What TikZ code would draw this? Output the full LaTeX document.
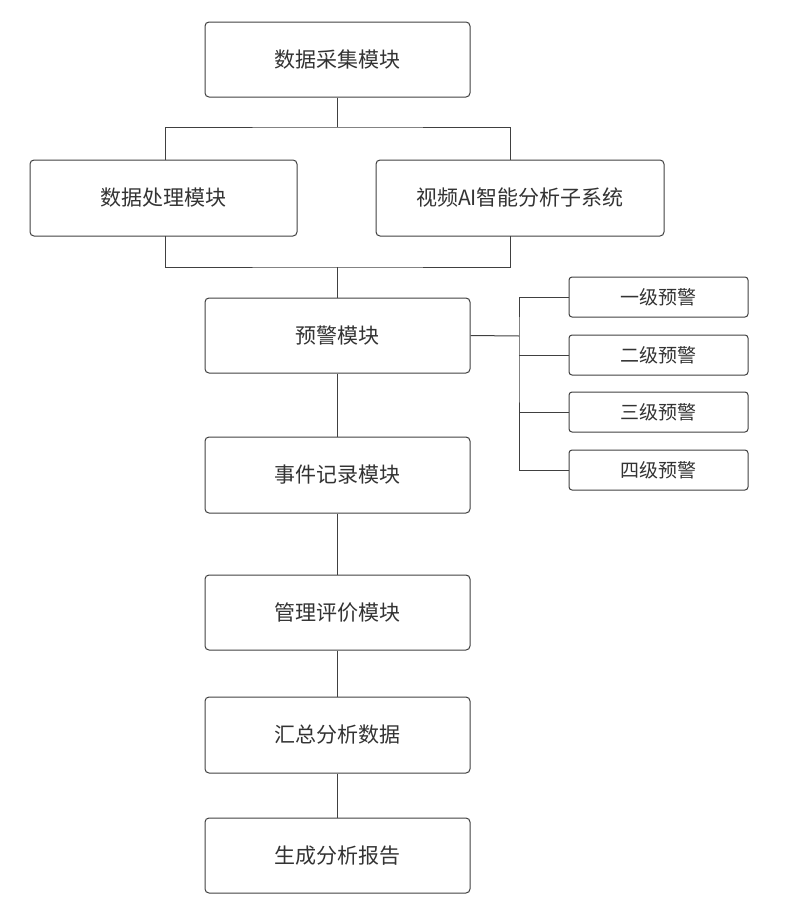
\documentclass[tikz,border=0pt]{standalone}
\usepackage{fontspec}
\setmainfont{Noto Sans CJK SC}
\begin{document}
\begin{tikzpicture}[x=1pt,y=-1pt,
  box/.style={draw=black!75,line width=1pt,rounded corners=4pt,font=\fontsize{21}{24}\selectfont,text=black!80},
  sbox/.style={draw=black!75,line width=1pt,rounded corners=3pt,font=\fontsize{19}{22}\selectfont,text=black!80,minimum width=179pt,minimum height=40pt},
  ln/.style={draw=black!75,line width=1pt}]
\useasboundingbox (0,0) rectangle (788,913);
\newcommand\bx[6]{\node[#6,minimum width={#4-#2},minimum height={#5-#3}] (#1) at ({(#2+#4)/2},{(#3+#5)/2}) {};}
\node[box,minimum width=265pt,minimum height=75pt] (a) at (337.5,59.5) {数据采集模块};
\node[box,minimum width=267pt,minimum height=76pt] (b) at (163.5,198) {数据处理模块};
\node[box,minimum width=288pt,minimum height=76pt] (c) at (520,198) {视频AI智能分析子系统};
\node[box,minimum width=265pt,minimum height=75pt] (d) at (337.5,335.5) {预警模块};
\node[box,minimum width=265pt,minimum height=76pt] (e) at (337.5,475) {事件记录模块};
\node[box,minimum width=265pt,minimum height=75pt] (f) at (337.5,612.5) {管理评价模块};
\node[box,minimum width=265pt,minimum height=76pt] (g) at (337.5,735) {汇总分析数据};
\node[box,minimum width=265pt,minimum height=75pt] (h) at (337.5,855.5) {生成分析报告};
\node[sbox] (w1) at (658.5,297) {一级预警};
\node[sbox] (w2) at (658.5,355) {二级预警};
\node[sbox] (w3) at (658.5,412) {三级预警};
\node[sbox] (w4) at (658.5,470) {四级预警};
\coordinate (t) at (337.5,127);
\coordinate (u) at (337.5,267);
\coordinate (s) at (519,336);
\draw[ln] (a.south) -- (t);
\draw[ln] (165,160) |- (t) -| (510,160);
\draw[ln] (165,236) |- (u) -| (510,236);
\draw[ln] (u) -- (d.north);
\draw[ln] (d.east) -- (s);
\draw[ln] (w1.west) -| (s) |- (w4.west);
\draw[ln] (s |- w2.west) -- (w2.west);
\draw[ln] (s |- w3.west) -- (w3.west);
\draw[ln] (d) -- (e) -- (f) -- (g) -- (h);
\end{tikzpicture}
\end{document}
